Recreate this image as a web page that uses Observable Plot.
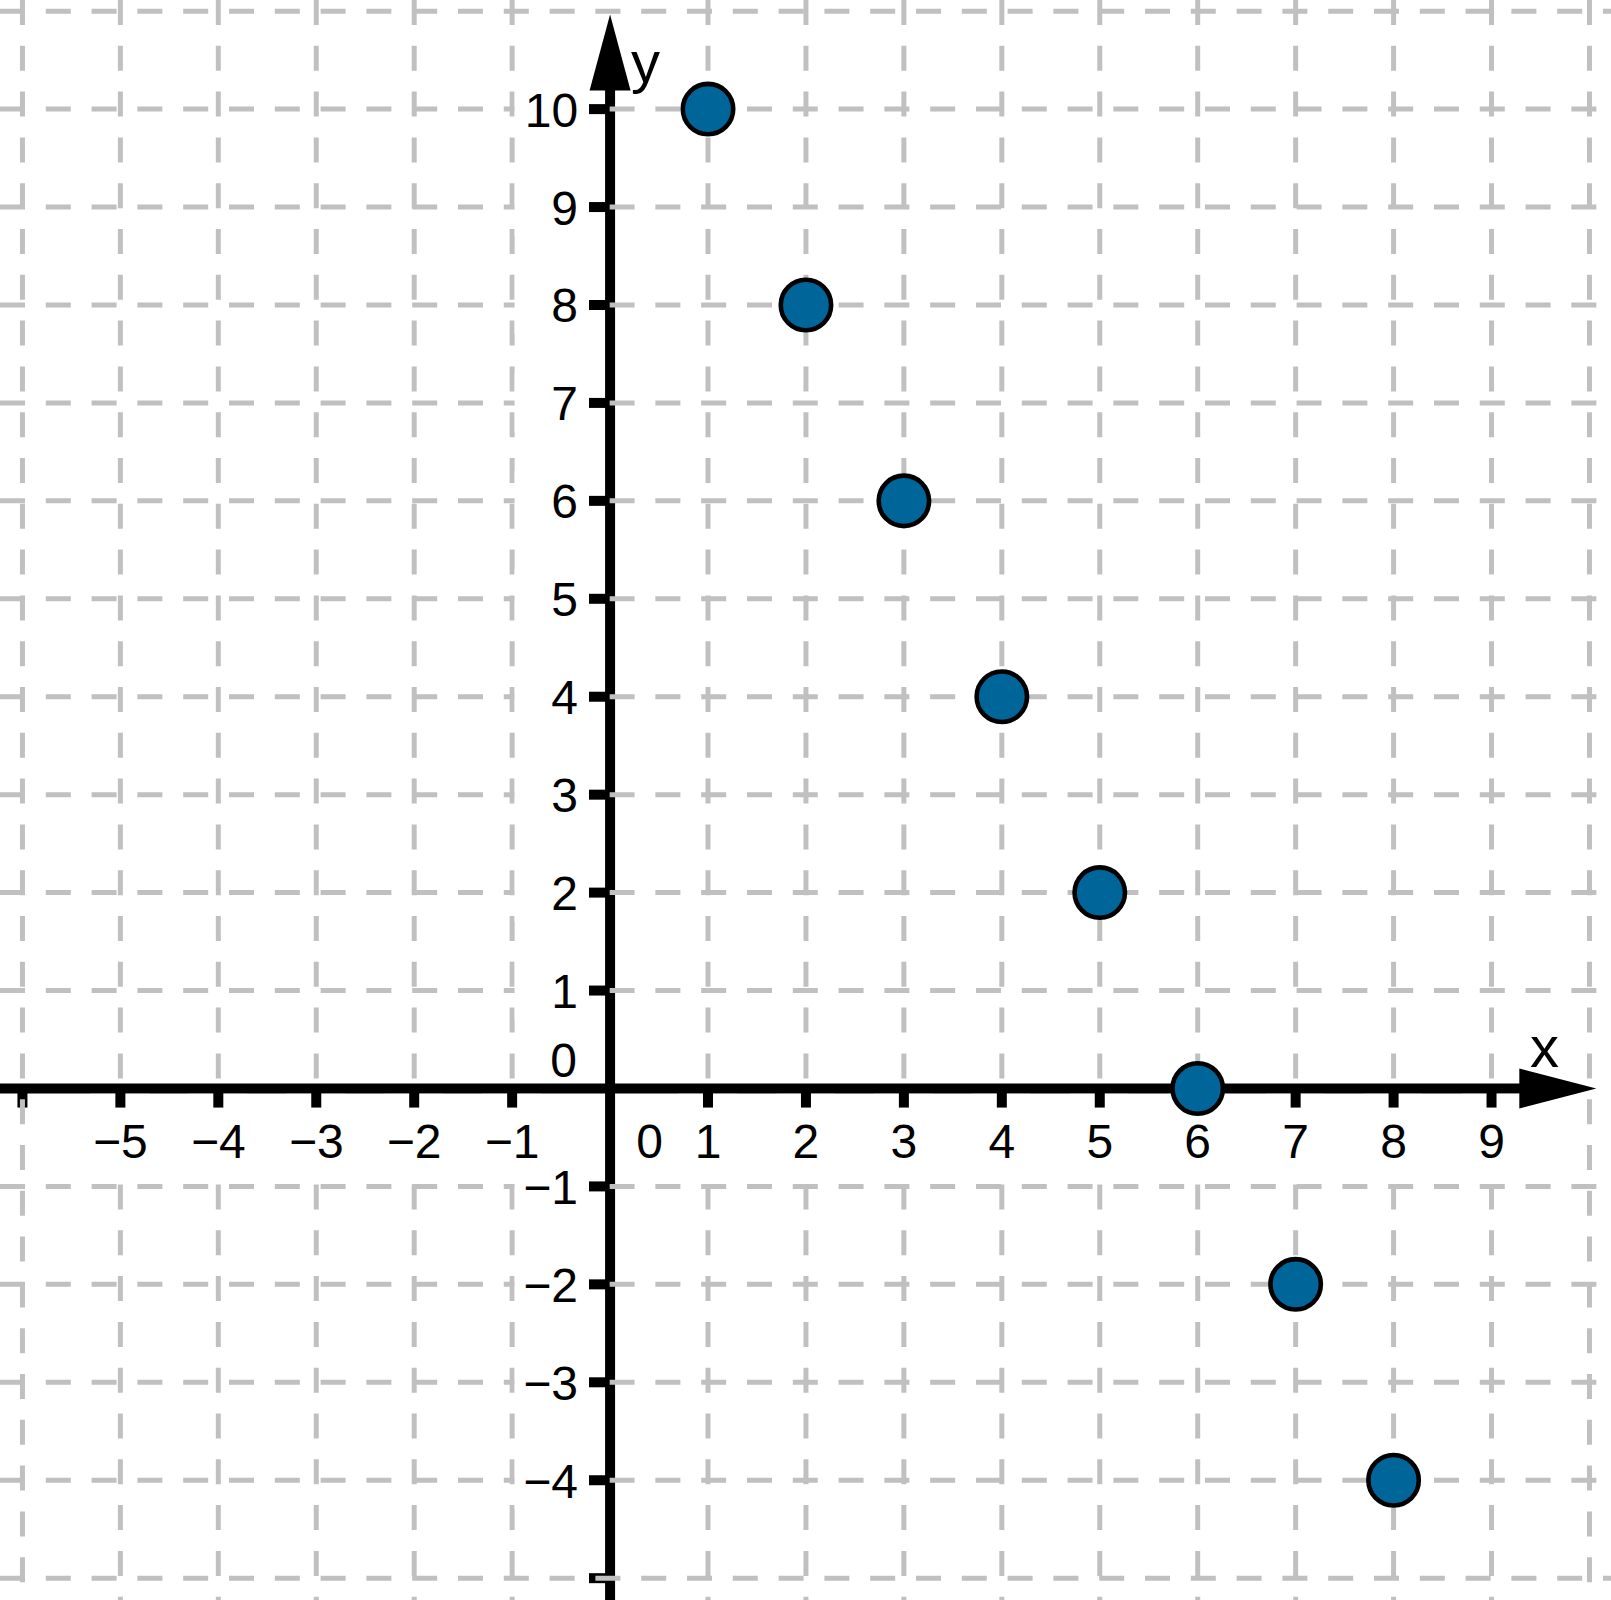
<!DOCTYPE html>
<html><head><meta charset="utf-8">
<script src="https://cdn.jsdelivr.net/npm/d3@7"></script>
<script src="https://cdn.jsdelivr.net/npm/@observablehq/plot@0.6"></script>
<style>html,body{margin:0;padding:0;background:#fff;overflow:hidden}</style>
</head><body><div id="chart"></div>
<script>
// ---- data ----
const pointX = [1, 2, 3, 4, 5, 6, 7, 8];
const pointY = [10, 8, 6, 4, 2, 0, -2, -4];
const xTickValues = [-6, -5, -4, -3, -2, -1, 1, 2, 3, 4, 5, 6, 7, 8, 9];
const xLabelValues = [-5, -4, -3, -2, -1, 1, 2, 3, 4, 5, 6, 7, 8, 9];
const yTickValues = [-5, -4, -3, -2, -1, 1, 2, 3, 4, 5, 6, 7, 8, 9, 10];
const yLabelValues = [-4, -3, -2, -1, 1, 2, 3, 4, 5, 6, 7, 8, 9, 10];
const xGridValues = [-6, -5, -4, -3, -2, -1, 1, 2, 3, 4, 5, 6, 7, 8, 9, 10];
const yGridValues = [-5, -4, -3, -2, -1, 1, 2, 3, 4, 5, 6, 7, 8, 9, 10, 11];
const zeroLabels = ["0"];
const axisNames = ["x", "y"];
const xDomain = [-6.224, 10.225];
const yDomain = [-5.228, 11.109];
const xArrowTip = 10.07;
const yArrowTip = 10.966;

const fmt = v => v < 0 ? "\u2212" + Math.abs(v) : String(v);
const points = pointX.map((x, i) => ({x, y: pointY[i]}));
const unlabeledCols = xGridValues.filter(v => !xLabelValues.includes(v));
const unlabeledRows = yGridValues.filter(v => !yLabelValues.includes(v));
const unlabeledXTicks = xTickValues.filter(v => !xLabelValues.includes(v));
const unlabeledYTicks = yTickValues.filter(v => !yLabelValues.includes(v));

const FONT = "Liberation Sans, Arial, Helvetica, sans-serif";
const GRID = {stroke: "#c0c0c0", strokeWidth: 5, strokeDasharray: "25,20.8"};
const AX = {stroke: "#000", strokeWidth: 10};
const TICK = {stroke: "#000", strokeWidth: 10};

const upArrow = {draw(ctx) { ctx.moveTo(0, 0); ctx.lineTo(-20.5, 76); ctx.lineTo(20.5, 76); ctx.closePath(); }};
const rightArrow = {draw(ctx) { ctx.moveTo(0, 0); ctx.lineTo(-77, -20); ctx.lineTo(-77, 20); ctx.closePath(); }};

const chart = Plot.plot({
  width: 1611,
  height: 1600,
  margin: 0,
  x: {domain: xDomain, range: [0, 1611], axis: null},
  y: {domain: yDomain, range: [1600, 0], axis: null},
  style: {fontFamily: FONT, background: "#fff"},
  marks: [
    // axis lines
    Plot.ruleY([0], {x1: xDomain[0], x2: 9.5, ...AX}),
    Plot.ruleX([0], {y1: yDomain[0], y2: 10.5, ...AX}),
    // unlabeled ticks (grid drawn over them)
    Plot.ruleX(unlabeledXTicks, {x: d => d, y1: 0, y2: -0.2, ...TICK}),
    Plot.ruleY(unlabeledYTicks, {y: d => d, x1: 0, x2: -0.21, ...TICK}),
    // grid
    Plot.ruleX(unlabeledCols, {x: d => d, y1: yDomain[1], y2: yDomain[0], ...GRID}),
    Plot.ruleX(xLabelValues, {x: d => d, y1: yDomain[1], y2: 0, ...GRID}),
    Plot.ruleX(xLabelValues, {x: d => d, y1: -0.05, y2: yDomain[0], ...GRID}),
    Plot.ruleY(unlabeledRows, {y: d => d, x1: xDomain[0], x2: xDomain[1], ...GRID}),
    Plot.ruleY(yLabelValues, {y: d => d, x1: xDomain[0], x2: 0, ...GRID}),
    Plot.ruleY(yLabelValues, {y: d => d, x1: 0, x2: xDomain[1], ...GRID}),
    // label backgrounds
    Plot.rect(xLabelValues, {x1: d => d - 0.3, x2: d => d + 0.3, y1: -0.06, y2: -0.95, fill: "#fff"}),
    Plot.rect(yLabelValues, {x1: -0.97, x2: -0.052, y1: d => d - 0.3, y2: d => d + 0.3, fill: "#fff"}),
    // labeled ticks
    Plot.ruleX(xLabelValues, {x: d => d, y1: 0, y2: -0.2, ...TICK}),
    Plot.ruleY(yLabelValues, {y: d => d, x1: 0, x2: -0.21, ...TICK}),
    // tick labels
    Plot.text(xLabelValues, {x: d => d, y: 0, text: d => fmt(d), dy: 70, lineAnchor: "bottom", textAnchor: "middle", fontSize: 48, fontFamily: FONT, fill: "#000"}),
    Plot.text(yLabelValues, {x: 0, y: d => d, text: d => fmt(d), dx: -32, dy: 17.5, lineAnchor: "bottom", textAnchor: "end", fontSize: 48, fontFamily: FONT, fill: "#000"}),
    Plot.text(zeroLabels, {x: 0, y: 0, text: d => d, dx: -33, dy: -11, lineAnchor: "bottom", textAnchor: "end", fontSize: 48, fontFamily: FONT, fill: "#000"}),
    Plot.text(zeroLabels, {x: 0, y: 0, text: d => d, dx: 39.5, dy: 70, lineAnchor: "bottom", textAnchor: "middle", fontSize: 48, fontFamily: FONT, fill: "#000"}),
    // axis names
    Plot.text([axisNames[0]], {x: 9.54, y: 0, text: d => d, dy: -21, lineAnchor: "bottom", textAnchor: "middle", fontSize: 58, fontFamily: FONT, fill: "#000"}),
    Plot.text([axisNames[1]], {x: 0, y: 10, text: d => d, dx: 35.5, dy: -27, lineAnchor: "bottom", textAnchor: "middle", fontSize: 58, fontFamily: FONT, fill: "#000"}),
    // points
    Plot.dot(points, {x: "x", y: "y", r: 25.2, fill: "#006699", stroke: "#000", strokeWidth: 4.6}),
    // arrow heads
    Plot.dot([0], {x: 0, y: yArrowTip, symbol: upArrow, r: 10, fill: "#000", stroke: "none"}),
    Plot.dot([0], {x: xArrowTip, y: 0, symbol: rightArrow, r: 10, fill: "#000", stroke: "none"})
  ]
});
document.getElementById("chart").appendChild(chart);
</script>
</body></html>
